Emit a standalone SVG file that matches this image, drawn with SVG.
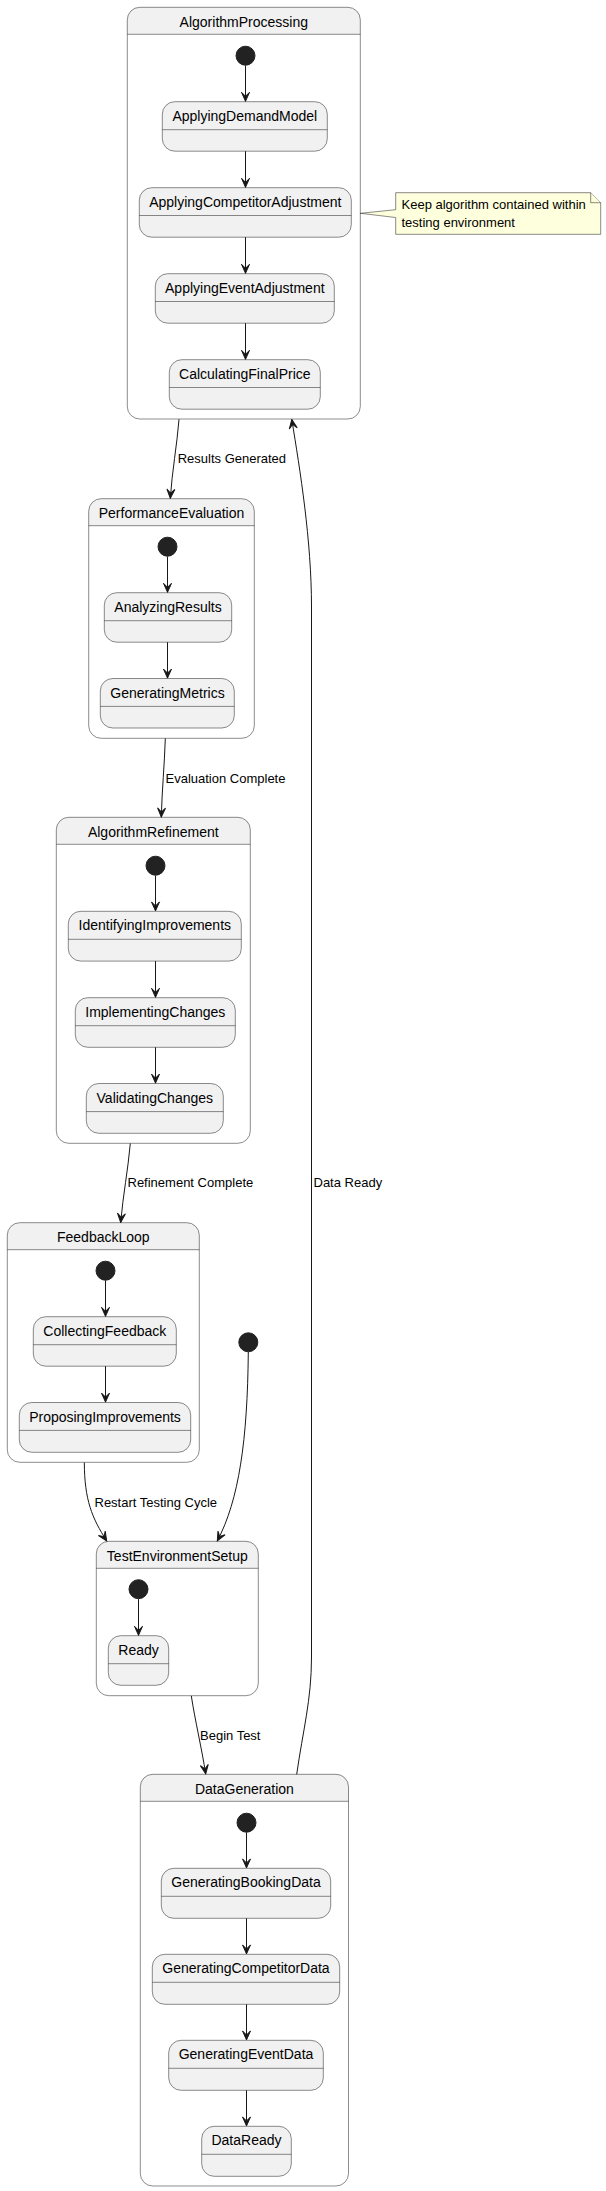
<svg xmlns="http://www.w3.org/2000/svg" width="606" height="2191" viewBox="0 0 606 2191">
<style>
.bg{fill:#FFFFFF;stroke:none}
.cbody{fill:#FFFFFF;stroke:none}
.chead{fill:#F1F1F1;stroke:none}
.cline{fill:none;stroke:#181818;stroke-width:0.5}
.st{fill:#F1F1F1;stroke:#181818;stroke-width:0.5}
.div{stroke:#181818;stroke-width:0.5}
.start{fill:#222222;stroke:#222222;stroke-width:1}
.edge{fill:none;stroke:#181818;stroke-width:1}
.t14{font-family:"Liberation Sans",Arial,sans-serif;font-size:14px;fill:#000000;text-anchor:middle}
.t13{font-family:"Liberation Sans",Arial,sans-serif;font-size:13px;fill:#000000}
.note{fill:#FEFFDD;stroke:#181818;stroke-width:0.5}
</style>
<defs>
<marker id="arr" markerUnits="userSpaceOnUse" viewBox="-10 -5 11 10" refX="0" refY="0" markerWidth="11" markerHeight="10" orient="auto">
<path d="M0,0 L-9,-4 L-5,0 L-9,4 Z" fill="#181818" stroke="#181818" stroke-width="1" stroke-linejoin="miter"/>
</marker>
</defs>
<rect class="bg" x="0" y="0" width="606" height="2191"/>

<g id="AlgorithmProcessing">
<rect class="cbody" x="127.3" y="7.3" width="233" height="411.7" rx="12.5"/>
<path class="chead" d="M127.3,34.3 L127.3,19.8 A12.5,12.5 0 0 1 139.8,7.3 L347.8,7.3 A12.5,12.5 0 0 1 360.3,19.8 L360.3,34.3 Z"/>
<line class="div" x1="127.3" y1="34.3" x2="360.3" y2="34.3"/>
<rect class="cline" x="127.3" y="7.3" width="233" height="411.7" rx="12.5"/>
<text class="t14" x="243.8" y="26.7">AlgorithmProcessing</text>
<circle class="start" cx="245.5" cy="55.7" r="9.5"/>
<g id="ApplyingDemandModel">
<rect class="st" x="162.3" y="101.7" width="165" height="49.5" rx="12.5"/>
<line class="div" x1="162.3" y1="129.7" x2="327.3" y2="129.7"/>
<text class="t14" x="244.8" y="120.7">ApplyingDemandModel</text>
</g>
<g id="ApplyingCompetitorAdjustment">
<rect class="st" x="139.3" y="187.7" width="212" height="49.5" rx="12.5"/>
<line class="div" x1="139.3" y1="215.5" x2="351.3" y2="215.5"/>
<text class="t14" x="245.3" y="206.7">ApplyingCompetitorAdjustment</text>
</g>
<g id="ApplyingEventAdjustment">
<rect class="st" x="155.3" y="273.7" width="179" height="49.5" rx="12.5"/>
<line class="div" x1="155.3" y1="301.5" x2="334.3" y2="301.5"/>
<text class="t14" x="244.8" y="292.7">ApplyingEventAdjustment</text>
</g>
<g id="CalculatingFinalPrice">
<rect class="st" x="169.3" y="359.7" width="151" height="49.5" rx="12.5"/>
<line class="div" x1="169.3" y1="387.5" x2="320.3" y2="387.5"/>
<text class="t14" x="244.8" y="378.7">CalculatingFinalPrice</text>
</g>
</g>

<g id="note">
<path class="note" d="M395.7,192.7 L590.7,192.7 L600.7,202.7 L600.7,234.3 L395.7,234.3 L395.7,217.5 L360.3,213.3 L395.7,209.7 Z"/>
<path class="note" d="M590.7,192.7 L590.7,202.7 L600.7,202.7"/>
<text class="t13" x="401.5" y="209.3">Keep algorithm contained within</text>
<text class="t13" x="401.5" y="226.5">testing environment</text>
</g>

<g id="PerformanceEvaluation">
<rect class="cbody" x="88.7" y="498.7" width="165.6" height="239.6" rx="12.5"/>
<path class="chead" d="M88.7,525.7 L88.7,511.2 A12.5,12.5 0 0 1 101.2,498.7 L241.8,498.7 A12.5,12.5 0 0 1 254.3,511.2 L254.3,525.7 Z"/>
<line class="div" x1="88.7" y1="525.7" x2="254.3" y2="525.7"/>
<rect class="cline" x="88.7" y="498.7" width="165.6" height="239.6" rx="12.5"/>
<text class="t14" x="171.5" y="518">PerformanceEvaluation</text>
<circle class="start" cx="167.5" cy="546.7" r="9.5"/>
<g id="AnalyzingResults">
<rect class="st" x="104.3" y="592.7" width="127.4" height="49.5" rx="12.5"/>
<line class="div" x1="104.3" y1="620.7" x2="231.7" y2="620.7"/>
<text class="t14" x="168" y="611.7">AnalyzingResults</text>
</g>
<g id="GeneratingMetrics">
<rect class="st" x="100.3" y="678.5" width="134" height="49.5" rx="12.5"/>
<line class="div" x1="100.3" y1="706.4" x2="234.3" y2="706.4"/>
<text class="t14" x="167.5" y="697.5">GeneratingMetrics</text>
</g>
</g>

<g id="AlgorithmRefinement">
<rect class="cbody" x="56.3" y="817.3" width="194" height="326" rx="12.5"/>
<path class="chead" d="M56.3,844.3 L56.3,829.8 A12.5,12.5 0 0 1 68.8,817.3 L237.8,817.3 A12.5,12.5 0 0 1 250.3,829.8 L250.3,844.3 Z"/>
<line class="div" x1="56.3" y1="844.3" x2="250.3" y2="844.3"/>
<rect class="cline" x="56.3" y="817.3" width="194" height="326" rx="12.5"/>
<text class="t14" x="153.3" y="836.7">AlgorithmRefinement</text>
<circle class="start" cx="155.5" cy="865.7" r="9.5"/>
<g id="IdentifyingImprovements">
<rect class="st" x="68.3" y="911.3" width="173" height="49.8" rx="12.5"/>
<line class="div" x1="68.3" y1="939.3" x2="241.3" y2="939.3"/>
<text class="t14" x="154.8" y="930.3">IdentifyingImprovements</text>
</g>
<g id="ImplementingChanges">
<rect class="st" x="75.3" y="997.7" width="160" height="49.6" rx="12.5"/>
<line class="div" x1="75.3" y1="1025.7" x2="235.3" y2="1025.7"/>
<text class="t14" x="155.3" y="1016.7">ImplementingChanges</text>
</g>
<g id="ValidatingChanges">
<rect class="st" x="86.3" y="1083.5" width="137" height="49.8" rx="12.5"/>
<line class="div" x1="86.3" y1="1111.6" x2="223.3" y2="1111.6"/>
<text class="t14" x="154.8" y="1102.5">ValidatingChanges</text>
</g>
</g>

<g id="FeedbackLoop">
<rect class="cbody" x="7.3" y="1222.7" width="192" height="239.6" rx="12.5"/>
<path class="chead" d="M7.3,1249.7 L7.3,1235.2 A12.5,12.5 0 0 1 19.8,1222.7 L186.8,1222.7 A12.5,12.5 0 0 1 199.3,1235.2 L199.3,1249.7 Z"/>
<line class="div" x1="7.3" y1="1249.7" x2="199.3" y2="1249.7"/>
<rect class="cline" x="7.3" y="1222.7" width="192" height="239.6" rx="12.5"/>
<text class="t14" x="103.3" y="1242">FeedbackLoop</text>
<circle class="start" cx="105.5" cy="1270.7" r="9.5"/>
<g id="CollectingFeedback">
<rect class="st" x="33.3" y="1316.7" width="143" height="49.5" rx="12.5"/>
<line class="div" x1="33.3" y1="1344.7" x2="176.3" y2="1344.7"/>
<text class="t14" x="104.8" y="1335.7">CollectingFeedback</text>
</g>
<g id="ProposingImprovements">
<rect class="st" x="19.3" y="1402.5" width="171.4" height="49.8" rx="12.5"/>
<line class="div" x1="19.3" y1="1430.4" x2="190.7" y2="1430.4"/>
<text class="t14" x="105" y="1421.5">ProposingImprovements</text>
</g>
</g>

<g id="start">
<circle class="start" cx="248.3" cy="1342.3" r="9.5"/>
</g>

<g id="TestEnvironmentSetup">
<rect class="cbody" x="96.3" y="1541.3" width="162" height="154.4" rx="12.5"/>
<path class="chead" d="M96.3,1568.3 L96.3,1553.8 A12.5,12.5 0 0 1 108.8,1541.3 L245.8,1541.3 A12.5,12.5 0 0 1 258.3,1553.8 L258.3,1568.3 Z"/>
<line class="div" x1="96.3" y1="1568.3" x2="258.3" y2="1568.3"/>
<rect class="cline" x="96.3" y="1541.3" width="162" height="154.4" rx="12.5"/>
<text class="t14" x="177.3" y="1560.7">TestEnvironmentSetup</text>
<circle class="start" cx="138.5" cy="1589.2" r="9.5"/>
<g id="Ready">
<rect class="st" x="108.3" y="1635.7" width="60.4" height="49.6" rx="12.5"/>
<line class="div" x1="108.3" y1="1663.7" x2="168.7" y2="1663.7"/>
<text class="t14" x="138.5" y="1654.7">Ready</text>
</g>
</g>

<g id="DataGeneration">
<rect class="cbody" x="140.3" y="1774.3" width="208.2" height="411.7" rx="12.5"/>
<path class="chead" d="M140.3,1801.3 L140.3,1786.8 A12.5,12.5 0 0 1 152.8,1774.3 L336,1774.3 A12.5,12.5 0 0 1 348.5,1786.8 L348.5,1801.3 Z"/>
<line class="div" x1="140.3" y1="1801.3" x2="348.5" y2="1801.3"/>
<rect class="cline" x="140.3" y="1774.3" width="208.2" height="411.7" rx="12.5"/>
<text class="t14" x="244.4" y="1793.5">DataGeneration</text>
<circle class="start" cx="246.5" cy="1822.7" r="9.5"/>
<g id="GeneratingBookingData">
<rect class="st" x="161.3" y="1868.3" width="169.4" height="50" rx="12.5"/>
<line class="div" x1="161.3" y1="1896.3" x2="330.7" y2="1896.3"/>
<text class="t14" x="246" y="1887.3">GeneratingBookingData</text>
</g>
<g id="GeneratingCompetitorData">
<rect class="st" x="152.3" y="1954.3" width="187.4" height="50" rx="12.5"/>
<line class="div" x1="152.3" y1="1982.3" x2="339.7" y2="1982.3"/>
<text class="t14" x="246" y="1973.3">GeneratingCompetitorData</text>
</g>
<g id="GeneratingEventData">
<rect class="st" x="168.7" y="2040.3" width="154.6" height="50" rx="12.5"/>
<line class="div" x1="168.7" y1="2068.3" x2="323.3" y2="2068.3"/>
<text class="t14" x="246" y="2059.3">GeneratingEventData</text>
</g>
<g id="DataReady">
<rect class="st" x="201.7" y="2126.3" width="89.6" height="50" rx="12.5"/>
<line class="div" x1="201.7" y1="2154.3" x2="291.3" y2="2154.3"/>
<text class="t14" x="246.5" y="2145.3">DataReady</text>
</g>
</g>

<g id="connectors">
<path class="edge" marker-end="url(#arr)" d="M245.5,65.5 L245.5,101.3"/>
<path class="edge" marker-end="url(#arr)" d="M245.5,151.2 L245.5,187.3"/>
<path class="edge" marker-end="url(#arr)" d="M245.5,237.2 L245.5,273.3"/>
<path class="edge" marker-end="url(#arr)" d="M245.5,323.2 L245.5,359.3"/>
<path class="edge" marker-end="url(#arr)" d="M167.5,556.5 L167.5,592.3"/>
<path class="edge" marker-end="url(#arr)" d="M167.5,642.2 L167.5,678.1"/>
<path class="edge" marker-end="url(#arr)" d="M155.5,875.5 L155.5,910.9"/>
<path class="edge" marker-end="url(#arr)" d="M155.5,961.1 L155.5,997.3"/>
<path class="edge" marker-end="url(#arr)" d="M155.5,1047.3 L155.5,1083.1"/>
<path class="edge" marker-end="url(#arr)" d="M105.5,1280.5 L105.5,1316.3"/>
<path class="edge" marker-end="url(#arr)" d="M105.5,1366.2 L105.5,1402.1"/>
<path class="edge" marker-end="url(#arr)" d="M138.5,1599 L138.5,1635.3"/>
<path class="edge" marker-end="url(#arr)" d="M246.5,1832.5 L246.5,1867.9"/>
<path class="edge" marker-end="url(#arr)" d="M246.5,1918.3 L246.5,1953.9"/>
<path class="edge" marker-end="url(#arr)" d="M246.5,2004.3 L246.5,2039.9"/>
<path class="edge" marker-end="url(#arr)" d="M246.5,2090.3 L246.5,2125.9"/>

<path class="edge" marker-end="url(#arr)" d="M179,419.3 C177,445 172,472 170.3,498.2"/>
<text class="t13" x="177.7" y="463.3">Results Generated</text>
<path class="edge" marker-end="url(#arr)" d="M165.3,738.5 C164.5,765 162,790 161.3,817"/>
<text class="t13" x="165.5" y="782.7">Evaluation Complete</text>
<path class="edge" marker-end="url(#arr)" d="M130.3,1143.5 C128,1170 123,1195 120.7,1222.4"/>
<text class="t13" x="127.5" y="1187.3">Refinement Complete</text>
<path class="edge" marker-end="url(#arr)" d="M84.3,1462.5 C84.5,1500 92,1518 106.7,1540.9"/>
<text class="t13" x="94.5" y="1506.7">Restart Testing Cycle</text>
<path class="edge" marker-end="url(#arr)" d="M248.3,1352 C247.5,1440 239,1500 217.3,1540.9"/>
<path class="edge" marker-end="url(#arr)" d="M191.3,1695.9 C195,1720 202,1750 205.7,1773.9"/>
<text class="t13" x="200" y="1740">Begin Test</text>
<path class="edge" marker-end="url(#arr)" d="M296.7,1774.3 C303,1730 311.5,1700 311.5,1657 L311.5,607 C311.5,540 300,470 291.8,419.5"/>
<text class="t13" x="313.5" y="1187.3">Data Ready</text>
</g>
</svg>
